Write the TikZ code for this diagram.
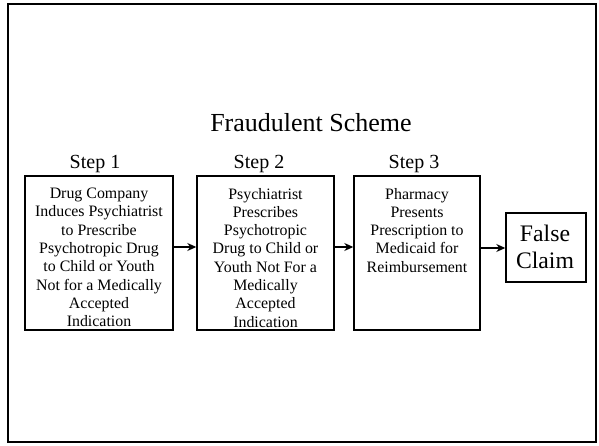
\documentclass[tikz,border=0pt]{standalone}
\usepackage{fontspec}
\setmainfont{Liberation Serif}
\usetikzlibrary{arrows.meta,calc}
\begin{document}
\begin{tikzpicture}[x=1pt,y=-1pt,
  frame/.style={draw=black,line width=2.6pt},
  stepbox/.style={draw=black,line width=1.4pt,inner sep=0pt},
  boxtext/.style={anchor=north,inner sep=0pt,align=center,font=\fontsize{15.9}{18.3}\selectfont},
  steplabel/.style={anchor=base,inner sep=0pt,font=\fontsize{20}{24}\selectfont},
  flow/.style={-{Stealth[length=9pt,width=8pt]},line width=1.3pt}]
\useasboundingbox (0,0) rectangle (599,446);
\fill[white] (0,0) rectangle (599,446);
\node[frame,minimum width=588pt,minimum height=438pt,inner sep=0pt] (border) at (302,223) {};
\node[anchor=base,inner sep=0pt,font=\fontsize{26}{30}\selectfont] (title) at (311,132) {Fraudulent Scheme};
\node[stepbox,minimum width=148pt,minimum height=154pt] (b1) at (99,253) {};
\node[stepbox,minimum width=137pt,minimum height=154pt] (b2) at (265.5,253) {};
\node[stepbox,minimum width=126pt,minimum height=154pt] (b3) at (417,253) {};
\node[stepbox,minimum width=80pt,minimum height=69pt] (fc) at (546,247.5) {};
\node[steplabel] (s1) at (95,169) {Step 1};
\node[steplabel] (s2) at (259,169) {Step 2};
\node[steplabel] (s3) at (414,169) {Step 3};
\node[boxtext] (t1) at ($(b1.north)+(0,12.5)$) {Drug Company\\Induces Psychiatrist\\to Prescribe\\Psychotropic Drug\\to Child or Youth\\Not for a Medically\\Accepted\\Indication};
\node[boxtext] (t2) at ($(b2.north)+(0,12.5)$) {Psychiatrist\\Prescribes\\Psychotropic\\Drug to Child or\\Youth Not For a\\Medically\\Accepted\\Indication};
\node[boxtext] (t3) at ($(b3.north)+(0,12.5)$) {Pharmacy\\Presents\\Prescription to\\Medicaid for\\Reimbursement};
\node[inner sep=0pt,align=center,font=\fontsize{23.7}{27.3}\selectfont] (tfc) at (545,247) {False\\Claim};
\draw[flow] (b1.east |- 0,247) -- (b2.west |- 0,247);
\draw[flow] (b2.east |- 0,247) -- (b3.west |- 0,247);
\draw[flow] (b3.east |- 0,248) -- (fc.west |- 0,248);
\end{tikzpicture}
\end{document}
